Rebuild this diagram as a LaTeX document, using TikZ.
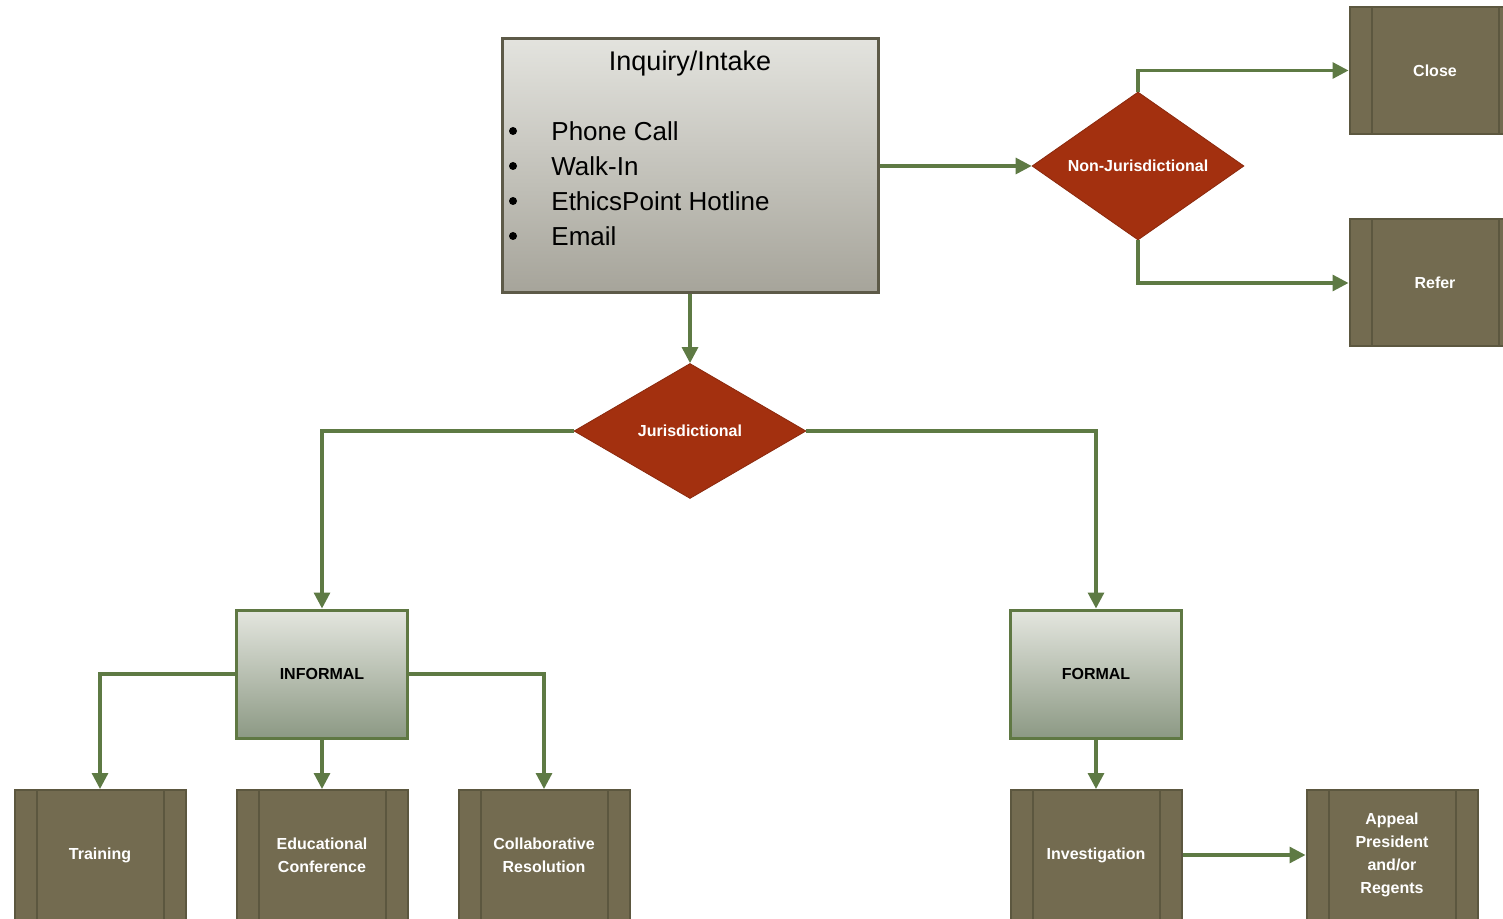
\documentclass[tikz,border=0pt]{standalone}
\usepackage{fontspec}
\setmainfont{Liberation Sans}
\usetikzlibrary{shapes.geometric,arrows.meta}

\definecolor{flowgreen}{HTML}{5E7A44}
\definecolor{intaketop}{HTML}{E3E3DE}
\definecolor{intakebot}{HTML}{A6A49A}
\definecolor{intakeline}{HTML}{5D5A48}
\definecolor{decisionred}{HTML}{A3300F}
\definecolor{stagetop}{HTML}{E4E6DF}
\definecolor{stagebot}{HTML}{8C9984}
\definecolor{stageline}{HTML}{5F7843}
\definecolor{outcomefill}{HTML}{736B50}
\definecolor{outcomeline}{HTML}{5C573F}

\tikzset{
  flow/.style={draw=flowgreen, line width=1.6pt, -{Triangle[length=8pt,width=8pt]}},
  labelfont/.style={font=\bfseries\fontsize{8}{11.4}\selectfont},
  decision/.style={diamond, fill=decisionred, draw=decisionred!85!black, line width=0.4pt,
    inner sep=0pt, text=white, labelfont},
  stagebox/.style={rectangle, top color=stagetop, bottom color=stagebot, draw=stageline,
    line width=1.5pt, minimum width=85.5pt, minimum height=64pt, labelfont},
  outcomebox/.style={rectangle, fill=outcomefill, draw=outcomeline, line width=1pt,
    text=white, align=center, minimum width=85.5pt, labelfont,
    path picture={
      \draw[outcomeline, line width=1pt]
        ([xshift=11pt]path picture bounding box.north west) -- ([xshift=11pt]path picture bounding box.south west)
        ([xshift=-11pt]path picture bounding box.north east) -- ([xshift=-11pt]path picture bounding box.south east);
    }},
}

\begin{document}
\begin{tikzpicture}[x=0.5pt,y=-0.5pt]
  \useasboundingbox (0,0) rectangle (1503,919);
  \clip (0,0) rectangle (1503,919);

  % intake box
  \node (intake) [rectangle, top color=intaketop, bottom color=intakebot, draw=intakeline,
    line width=1.5pt, minimum width=188pt, minimum height=127pt] at (690,166) {};
  \node (intaketitle) [font=\fontsize{13.5}{16}\selectfont] at (690,64) {Inquiry/Intake};
  \foreach \txt [count=\i] in {Phone Call, Walk-In, EthicsPoint Hotline, Email} {
    \node (dot\i) [circle, fill=black, inner sep=0pt, minimum size=4pt] at (513,{96+35*\i}) {};
    \node (item\i) [anchor=west, inner sep=0pt, font=\fontsize{13}{16}\selectfont] at (551,{96+35*\i}) {\txt};
  }

  % decisions
  \node (nonjur) [decision, aspect=1.43, minimum width=106pt, minimum height=74pt] at (1138,166) {Non-Jurisdictional};
  \node (jur) [decision, aspect=1.72, minimum width=116pt, minimum height=67.5pt] at (690,431) {Jurisdictional};

  % non-jurisdictional outcomes
  \node (close) [outcomebox, minimum height=63.5pt] at (1435,70.5) {Close};
  \node (refer) [outcomebox, minimum height=63.5pt] at (1435,283) {Refer};

  % stages
  \node (informal) [stagebox] at (322,674) {INFORMAL};
  \node (formal) [stagebox] at (1096,674) {FORMAL};

  % outcomes
  \node (training) [outcomebox, minimum height=65pt] at (100,855) {Training};
  \node (educonf) [outcomebox, minimum height=65pt] at (322,855) {Educational\\Conference};
  \node (collab) [outcomebox, minimum height=65pt] at (544,855) {Collaborative\\Resolution};
  \node (invest) [outcomebox, minimum height=65pt] at (1096,855) {Investigation};
  \node (appeal) [outcomebox, minimum height=65pt] at (1392,855) {Appeal\\President\\and/or\\Regents};

  % connectors
  \draw[flow] (intake.east) -- (nonjur.west);
  \draw[flow] (nonjur.north) |- (close.west);
  \draw[flow] (nonjur.south) |- (refer.west);
  \draw[flow] (intake.south) -- (jur.north);
  \draw[flow] (jur.west) -| (informal.north);
  \draw[flow] (jur.east) -| (formal.north);
  \draw[flow] (informal.west) -| (training.north);
  \draw[flow] (informal.south) -- (educonf.north);
  \draw[flow] (informal.east) -| (collab.north);
  \draw[flow] (formal.south) -- (invest.north);
  \draw[flow] (invest.east) -- (appeal.west);
\end{tikzpicture}
\end{document}
